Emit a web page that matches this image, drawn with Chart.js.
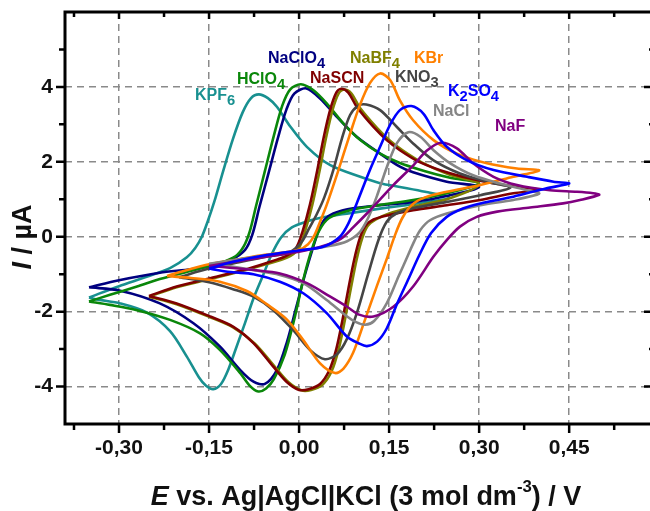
<!DOCTYPE html>
<html>
<head>
<meta charset="utf-8">
<script src="https://cdn.jsdelivr.net/npm/chart.js@4.4.1/dist/chart.umd.min.js"></script>
<style>
  html, body { margin: 0; padding: 0; background: #fff; overflow: hidden; }
  canvas { display: block; }
</style>
</head>
<body>
<canvas id="cv" width="660" height="511"></canvas>
<script>
// tick values
const xTicks = [-0.30, -0.15, 0.00, 0.15, 0.30, 0.45];
const xMinor = [-0.375, -0.225, -0.075, 0.075, 0.225, 0.375, 0.525];
const yTicks = [-4, -2, 0, 2, 4];
const yMinor = [-3, -1, 1, 3, 5];

// [E / V, I / uA], forward scan then return scan
const kpf6 = [[-0.350,-1.62],[-0.300,-1.32],[-0.254,-1.07],[-0.215,-0.84],[-0.187,-0.55],[-0.173,-0.30],[-0.162,0.00],[-0.152,0.42],[-0.141,0.95],[-0.126,1.78],[-0.110,2.62],[-0.094,3.32],[-0.080,3.70],[-0.067,3.80],[-0.052,3.70],[-0.037,3.47],[-0.015,2.95],[0.013,2.40],[0.052,1.91],[0.102,1.60],[0.135,1.43],[0.168,1.33],[0.210,1.20],[0.250,1.05],
  [0.210,0.92],[0.168,0.82],[0.135,0.75],[0.085,0.63],[0.040,0.52],[0.015,0.42],[-0.012,0.25],[-0.030,-0.02],[-0.046,-0.48],[-0.061,-1.07],[-0.076,-1.65],[-0.090,-2.30],[-0.104,-2.93],[-0.118,-3.55],[-0.130,-3.93],[-0.143,-4.07],[-0.155,-3.98],[-0.167,-3.75],[-0.187,-3.20],[-0.215,-2.52],[-0.254,-2.02],[-0.298,-1.78],[-0.335,-1.68],[-0.350,-1.62]];
const hclo4 = [[-0.350,-1.73],[-0.315,-1.55],[-0.270,-1.33],[-0.232,-1.13],[-0.165,-0.85],[-0.132,-0.70],[-0.106,-0.52],[-0.092,-0.25],[-0.082,0.15],[-0.072,0.80],[-0.057,1.75],[-0.042,2.70],[-0.028,3.50],[-0.015,3.93],[0.003,4.07],[0.024,3.91],[0.046,3.56],[0.074,3.02],[0.102,2.58],[0.135,2.22],[0.168,1.97],[0.210,1.75],[0.250,1.58],[0.300,1.42],
  [0.246,1.16],[0.190,0.98],[0.135,0.85],[0.085,0.71],[0.050,0.50],[0.033,0.15],[0.020,-0.40],[0.007,-1.15],[-0.008,-2.20],[-0.024,-3.15],[-0.042,-3.80],[-0.055,-4.05],[-0.068,-4.13],[-0.082,-3.98],[-0.098,-3.64],[-0.132,-3.02],[-0.165,-2.58],[-0.215,-2.22],[-0.270,-1.96],[-0.315,-1.82],[-0.350,-1.73]];
const naclo4 = [[-0.350,-1.35],[-0.300,-1.16],[-0.232,-0.96],[-0.180,-0.87],[-0.148,-0.78],[-0.112,-0.60],[-0.090,-0.35],[-0.078,0.05],[-0.066,0.80],[-0.050,1.75],[-0.035,2.65],[-0.021,3.40],[-0.008,3.82],[0.012,3.96],[0.035,3.69],[0.063,3.20],[0.096,2.67],[0.135,2.22],[0.168,1.87],[0.190,1.72],[0.246,1.47],[0.300,1.33],
  [0.246,1.09],[0.190,0.93],[0.140,0.85],[0.090,0.76],[0.057,0.62],[0.042,0.45],[0.033,0.18],[0.024,-0.25],[0.010,-1.00],[-0.005,-1.90],[-0.020,-2.80],[-0.037,-3.56],[-0.057,-3.93],[-0.076,-3.87],[-0.098,-3.56],[-0.132,-2.93],[-0.176,-2.31],[-0.232,-1.78],[-0.298,-1.44],[-0.350,-1.35]];
const nascn = [[-0.250,-1.58],[-0.204,-1.33],[-0.148,-1.11],[-0.093,-0.89],[-0.054,-0.70],[-0.022,-0.52],[-0.005,-0.30],[0.006,0.15],[0.018,0.85],[0.030,1.75],[0.041,2.65],[0.052,3.40],[0.062,3.85],[0.070,3.95],[0.082,3.85],[0.096,3.47],[0.124,2.93],[0.146,2.58],[0.168,2.31],[0.200,2.00],[0.250,1.70],[0.300,1.50],[0.350,1.36],[0.400,1.25],
  [0.357,1.16],[0.302,0.98],[0.246,0.84],[0.190,0.71],[0.150,0.58],[0.124,0.46],[0.110,0.28],[0.101,-0.05],[0.092,-0.60],[0.082,-1.40],[0.072,-2.25],[0.062,-3.00],[0.050,-3.58],[0.035,-3.93],[0.016,-4.07],[0.000,-4.09],[-0.021,-3.87],[-0.043,-3.47],[-0.076,-2.84],[-0.110,-2.40],[-0.148,-2.13],[-0.204,-1.78],[-0.250,-1.58]];
const nabf4 = [[-0.250,-1.60],[-0.204,-1.35],[-0.148,-1.13],[-0.093,-0.91],[-0.054,-0.73],[-0.020,-0.56],[-0.001,-0.32],[0.010,0.15],[0.022,0.85],[0.034,1.75],[0.045,2.65],[0.056,3.40],[0.066,3.83],[0.075,3.93],[0.087,3.83],[0.101,3.45],[0.129,2.92],[0.151,2.57],[0.173,2.30],[0.205,1.98],[0.250,1.66],[0.300,1.40],
  [0.250,1.02],[0.190,0.80],[0.150,0.62],[0.128,0.46],[0.114,0.28],[0.105,-0.05],[0.096,-0.60],[0.086,-1.40],[0.076,-2.25],[0.066,-3.00],[0.054,-3.60],[0.039,-3.95],[0.020,-4.09],[0.004,-4.10],[-0.018,-3.88],[-0.040,-3.48],[-0.074,-2.85],[-0.110,-2.42],[-0.148,-2.15],[-0.204,-1.80],[-0.250,-1.60]];
const kbr = [[-0.220,-1.05],[-0.200,-0.95],[-0.148,-0.73],[-0.100,-0.60],[-0.065,-0.50],[-0.030,-0.43],[0.000,-0.35],[0.015,-0.20],[0.025,0.02],[0.035,0.40],[0.046,0.85],[0.066,1.80],[0.084,2.70],[0.101,3.50],[0.118,4.10],[0.135,4.36],[0.152,4.18],[0.168,3.64],[0.190,3.11],[0.224,2.58],[0.263,2.22],[0.313,1.96],[0.363,1.82],[0.400,1.77],
  [0.357,1.60],[0.302,1.38],[0.246,1.20],[0.210,1.05],[0.188,0.85],[0.172,0.50],[0.160,0.05],[0.147,-0.55],[0.130,-1.30],[0.108,-2.30],[0.090,-3.10],[0.074,-3.52],[0.060,-3.64],[0.035,-3.38],[0.007,-2.76],[-0.021,-2.20],[-0.054,-1.80],[-0.087,-1.45],[-0.132,-1.20],[-0.180,-1.10],[-0.220,-1.05]];
const kno3 = [[-0.200,-1.08],[-0.150,-0.85],[-0.100,-0.68],[-0.050,-0.52],[-0.020,-0.44],[-0.005,-0.30],[0.006,-0.10],[0.016,0.20],[0.030,0.62],[0.042,1.05],[0.057,1.78],[0.071,2.60],[0.085,3.25],[0.099,3.50],[0.112,3.53],[0.135,3.38],[0.163,2.93],[0.190,2.49],[0.224,2.04],[0.268,1.69],[0.313,1.47],[0.352,1.31],
  [0.302,1.11],[0.246,0.93],[0.190,0.76],[0.162,0.62],[0.146,0.40],[0.132,-0.10],[0.115,-1.00],[0.097,-2.00],[0.080,-2.72],[0.063,-3.14],[0.043,-3.27],[0.018,-3.02],[-0.010,-2.49],[-0.043,-1.96],[-0.076,-1.60],[-0.110,-1.40],[-0.148,-1.22],[-0.200,-1.08]];
const k2so4 = [[-0.150,-0.85],[-0.110,-0.67],[-0.054,-0.49],[0.002,-0.36],[0.040,-0.27],[0.068,0.00],[0.082,0.35],[0.096,0.89],[0.118,1.78],[0.135,2.40],[0.152,3.00],[0.168,3.38],[0.187,3.49],[0.207,3.29],[0.224,2.84],[0.246,2.40],[0.280,2.04],[0.324,1.78],[0.380,1.60],[0.424,1.47],[0.450,1.42],
  [0.411,1.29],[0.357,1.07],[0.302,0.89],[0.274,0.76],[0.246,0.53],[0.220,0.10],[0.200,-0.50],[0.183,-1.10],[0.163,-1.80],[0.146,-2.45],[0.130,-2.80],[0.113,-2.92],[0.100,-2.85],[0.080,-2.67],[0.046,-2.04],[0.007,-1.51],[-0.032,-1.20],[-0.076,-1.00],[-0.110,-0.95],[-0.132,-0.90],[-0.150,-0.85]];
const nacl = [[-0.150,-0.72],[-0.100,-0.60],[-0.050,-0.48],[0.000,-0.38],[0.050,-0.25],[0.080,-0.12],[0.100,0.10],[0.115,0.50],[0.130,1.10],[0.146,1.85],[0.163,2.50],[0.182,2.79],[0.202,2.67],[0.224,2.31],[0.252,1.96],[0.290,1.64],[0.335,1.42],[0.380,1.24],[0.400,1.15],
  [0.357,0.98],[0.302,0.84],[0.246,0.62],[0.218,0.44],[0.202,0.18],[0.191,-0.15],[0.180,-0.55],[0.166,-1.05],[0.146,-1.78],[0.125,-2.25],[0.110,-2.35],[0.095,-2.28],[0.080,-2.13],[0.046,-1.69],[0.007,-1.24],[-0.032,-1.02],[-0.076,-0.89],[-0.132,-0.75],[-0.150,-0.72]];
const naf = [[-0.150,-0.78],[-0.100,-0.65],[-0.050,-0.52],[0.000,-0.40],[0.040,-0.25],[0.070,-0.05],[0.090,0.25],[0.113,0.62],[0.135,1.00],[0.157,1.38],[0.190,1.90],[0.213,2.30],[0.236,2.51],[0.263,2.36],[0.290,1.96],[0.324,1.60],[0.363,1.38],[0.418,1.24],[0.463,1.20],[0.490,1.16],[0.500,1.12],
  [0.468,0.98],[0.440,0.89],[0.385,0.78],[0.330,0.67],[0.296,0.53],[0.268,0.27],[0.246,-0.09],[0.224,-0.53],[0.190,-1.33],[0.157,-1.87],[0.124,-2.13],[0.100,-2.08],[0.080,-1.87],[0.052,-1.60],[0.013,-1.24],[-0.032,-0.98],[-0.076,-0.89],[-0.132,-0.80],[-0.150,-0.78]];

// first entry is drawn on top
const series = [
  { name: 'K2SO4', pts: k2so4, color: '#0000ff' },
  { name: 'NaF', pts: naf, color: '#800080' },
  { name: 'NaCl', pts: nacl, color: '#858585' },
  { name: 'KBr', pts: kbr, color: '#ff8000' },
  { name: 'KNO3', pts: kno3, color: '#454545' },
  { name: 'NaSCN', pts: nascn, color: '#800000' },
  { name: 'NaBF4', pts: nabf4, color: '#808000' },
  { name: 'HClO4', pts: hclo4, color: '#0a870a' },
  { name: 'NaClO4', pts: naclo4, color: '#000080' },
  { name: 'KPF6', pts: kpf6, color: '#189090' }
];

const FONT = '"Liberation Sans", Arial, sans-serif';

// curve name tags: [left px, baseline px, parts, colour]
const tags = [
  [195, 100, [['KPF'], ['6', 'sub']], '#189090'],
  [237, 84, [['HClO'], ['4', 'sub']], '#0a870a'],
  [268, 63, [['NaClO'], ['4', 'sub']], '#000080'],
  [310, 83, [['NaSCN']], '#800000'],
  [350, 63, [['NaBF'], ['4', 'sub']], '#808000'],
  [414, 63, [['KBr']], '#ff8000'],
  [395, 82, [['KNO'], ['3', 'sub']], '#454545'],
  [448, 96, [['K'], ['2', 'sub'], ['SO'], ['4', 'sub']], '#0000ff'],
  [433, 116, [['NaCl']], '#858585'],
  [495, 131, [['NaF']], '#800080']
];

function setFont(ctx, kind, size) {
  let fs = size, style = '';
  if (kind === 'sub') fs = size * 0.92;
  if (kind === 'sup') fs = size * 0.62;
  if (kind === 'it') style = 'italic ';
  ctx.font = `${style}bold ${fs}px ${FONT}`;
}

function richWidth(ctx, parts, size) {
  let w = 0;
  for (const [t, k] of parts) { setFont(ctx, k, size); w += ctx.measureText(t).width; }
  return w;
}

function drawRich(ctx, parts, x, y, size) {
  let cx = x;
  for (const [t, k] of parts) {
    setFont(ctx, k, size);
    let dy = 0;
    if (k === 'sub') dy = size * 0.32;
    if (k === 'sup') dy = -size * 0.48;
    ctx.fillText(t, cx, y + dy);
    cx += ctx.measureText(t).width;
  }
}

const framePlugin = {
  id: 'frame',
  afterDraw(chart) {
    const { ctx, chartArea: a, scales: { x, y } } = chart;
    ctx.save();
    ctx.strokeStyle = '#000';
    ctx.lineWidth = 3;
    ctx.strokeRect(a.left, a.top, a.right - a.left, a.bottom - a.top);

    ctx.lineWidth = 2.5;
    ctx.beginPath();
    const xt = (v, big) => {
      const px = x.getPixelForValue(v);
      ctx.moveTo(px, a.bottom); ctx.lineTo(px, a.bottom + (big ? 9 : 6));
      ctx.moveTo(px, a.top); ctx.lineTo(px, a.top + (big ? 7 : 5));
    };
    const yt = (v, big) => {
      const py = y.getPixelForValue(v);
      ctx.moveTo(a.left, py); ctx.lineTo(a.left - (big ? 9 : 6), py);
      ctx.moveTo(a.right, py); ctx.lineTo(a.right - (big ? 11 : 6), py);
    };
    xTicks.forEach(v => xt(v, true));
    xMinor.forEach(v => xt(v, false));
    yTicks.forEach(v => yt(v, true));
    yMinor.forEach(v => yt(v, false));
    ctx.stroke();

    // curve tags
    ctx.textBaseline = 'alphabetic';
    ctx.textAlign = 'left';
    for (const [lx, ly, parts, col] of tags) {
      ctx.fillStyle = col;
      drawRich(ctx, parts, lx, ly, 16);
    }

    // axis titles
    ctx.fillStyle = '#111';
    const xt2 = [['E', 'it'], [' vs. Ag|AgCl|KCl (3 mol dm'], ['-3', 'sup'], [') / V']];
    const wx = richWidth(ctx, xt2, 27);
    drawRich(ctx, xt2, 366 - wx / 2, 505, 27);

    const yt2 = [['I', 'it'], [' / µA']];
    const wy = richWidth(ctx, yt2, 27);
    ctx.translate(31, 237);
    ctx.rotate(-Math.PI / 2);
    drawRich(ctx, yt2, -wy / 2, 0, 27);
    ctx.restore();
  }
};

new Chart(document.getElementById('cv'), {
  type: 'scatter',
  data: {
    datasets: series.map(s => ({
      label: s.name,
      data: s.pts.map(p => ({ x: p[0], y: p[1] })),
      showLine: true,
      borderColor: s.color,
      backgroundColor: s.color,
      borderWidth: 2.6,
      pointRadius: 0,
      tension: 0.3,
      fill: false
    }))
  },
  options: {
    responsive: false,
    animation: false,
    events: [],
    layout: { padding: { top: 12, right: 5, bottom: 0, left: 0 } },
    plugins: { legend: { display: false }, tooltip: { enabled: false } },
    scales: {
      x: {
        type: 'linear', min: -0.39, max: 0.593,
        afterBuildTicks: s => { s.ticks = xTicks.map(v => ({ value: v })); },
        afterFit: s => { s.height = 87; s.paddingLeft = 0; s.paddingRight = 0; },
        grid: { color: '#8a8a8a', lineWidth: 1.5, drawTicks: false },
        border: { display: false, dash: [7, 5] },
        ticks: {
          padding: 12, color: '#111', maxRotation: 0, autoSkip: false,
          font: { family: FONT, size: 21, weight: 'bold' },
          callback: v => v.toFixed(2).replace('.', ',')
        }
      },
      y: {
        type: 'linear', min: -5, max: 6,
        afterBuildTicks: s => { s.ticks = yTicks.map(v => ({ value: v })); },
        afterFit: s => { s.width = 65; s.paddingTop = 0; s.paddingBottom = 0; },
        grid: { color: '#8a8a8a', lineWidth: 1.5, drawTicks: false },
        border: { display: false, dash: [7, 5] },
        ticks: {
          padding: 12, color: '#111', autoSkip: false,
          font: { family: FONT, size: 21, weight: 'bold' },
          callback: v => String(v)
        }
      }
    }
  },
  plugins: [framePlugin]
});
</script>
</body>
</html>
